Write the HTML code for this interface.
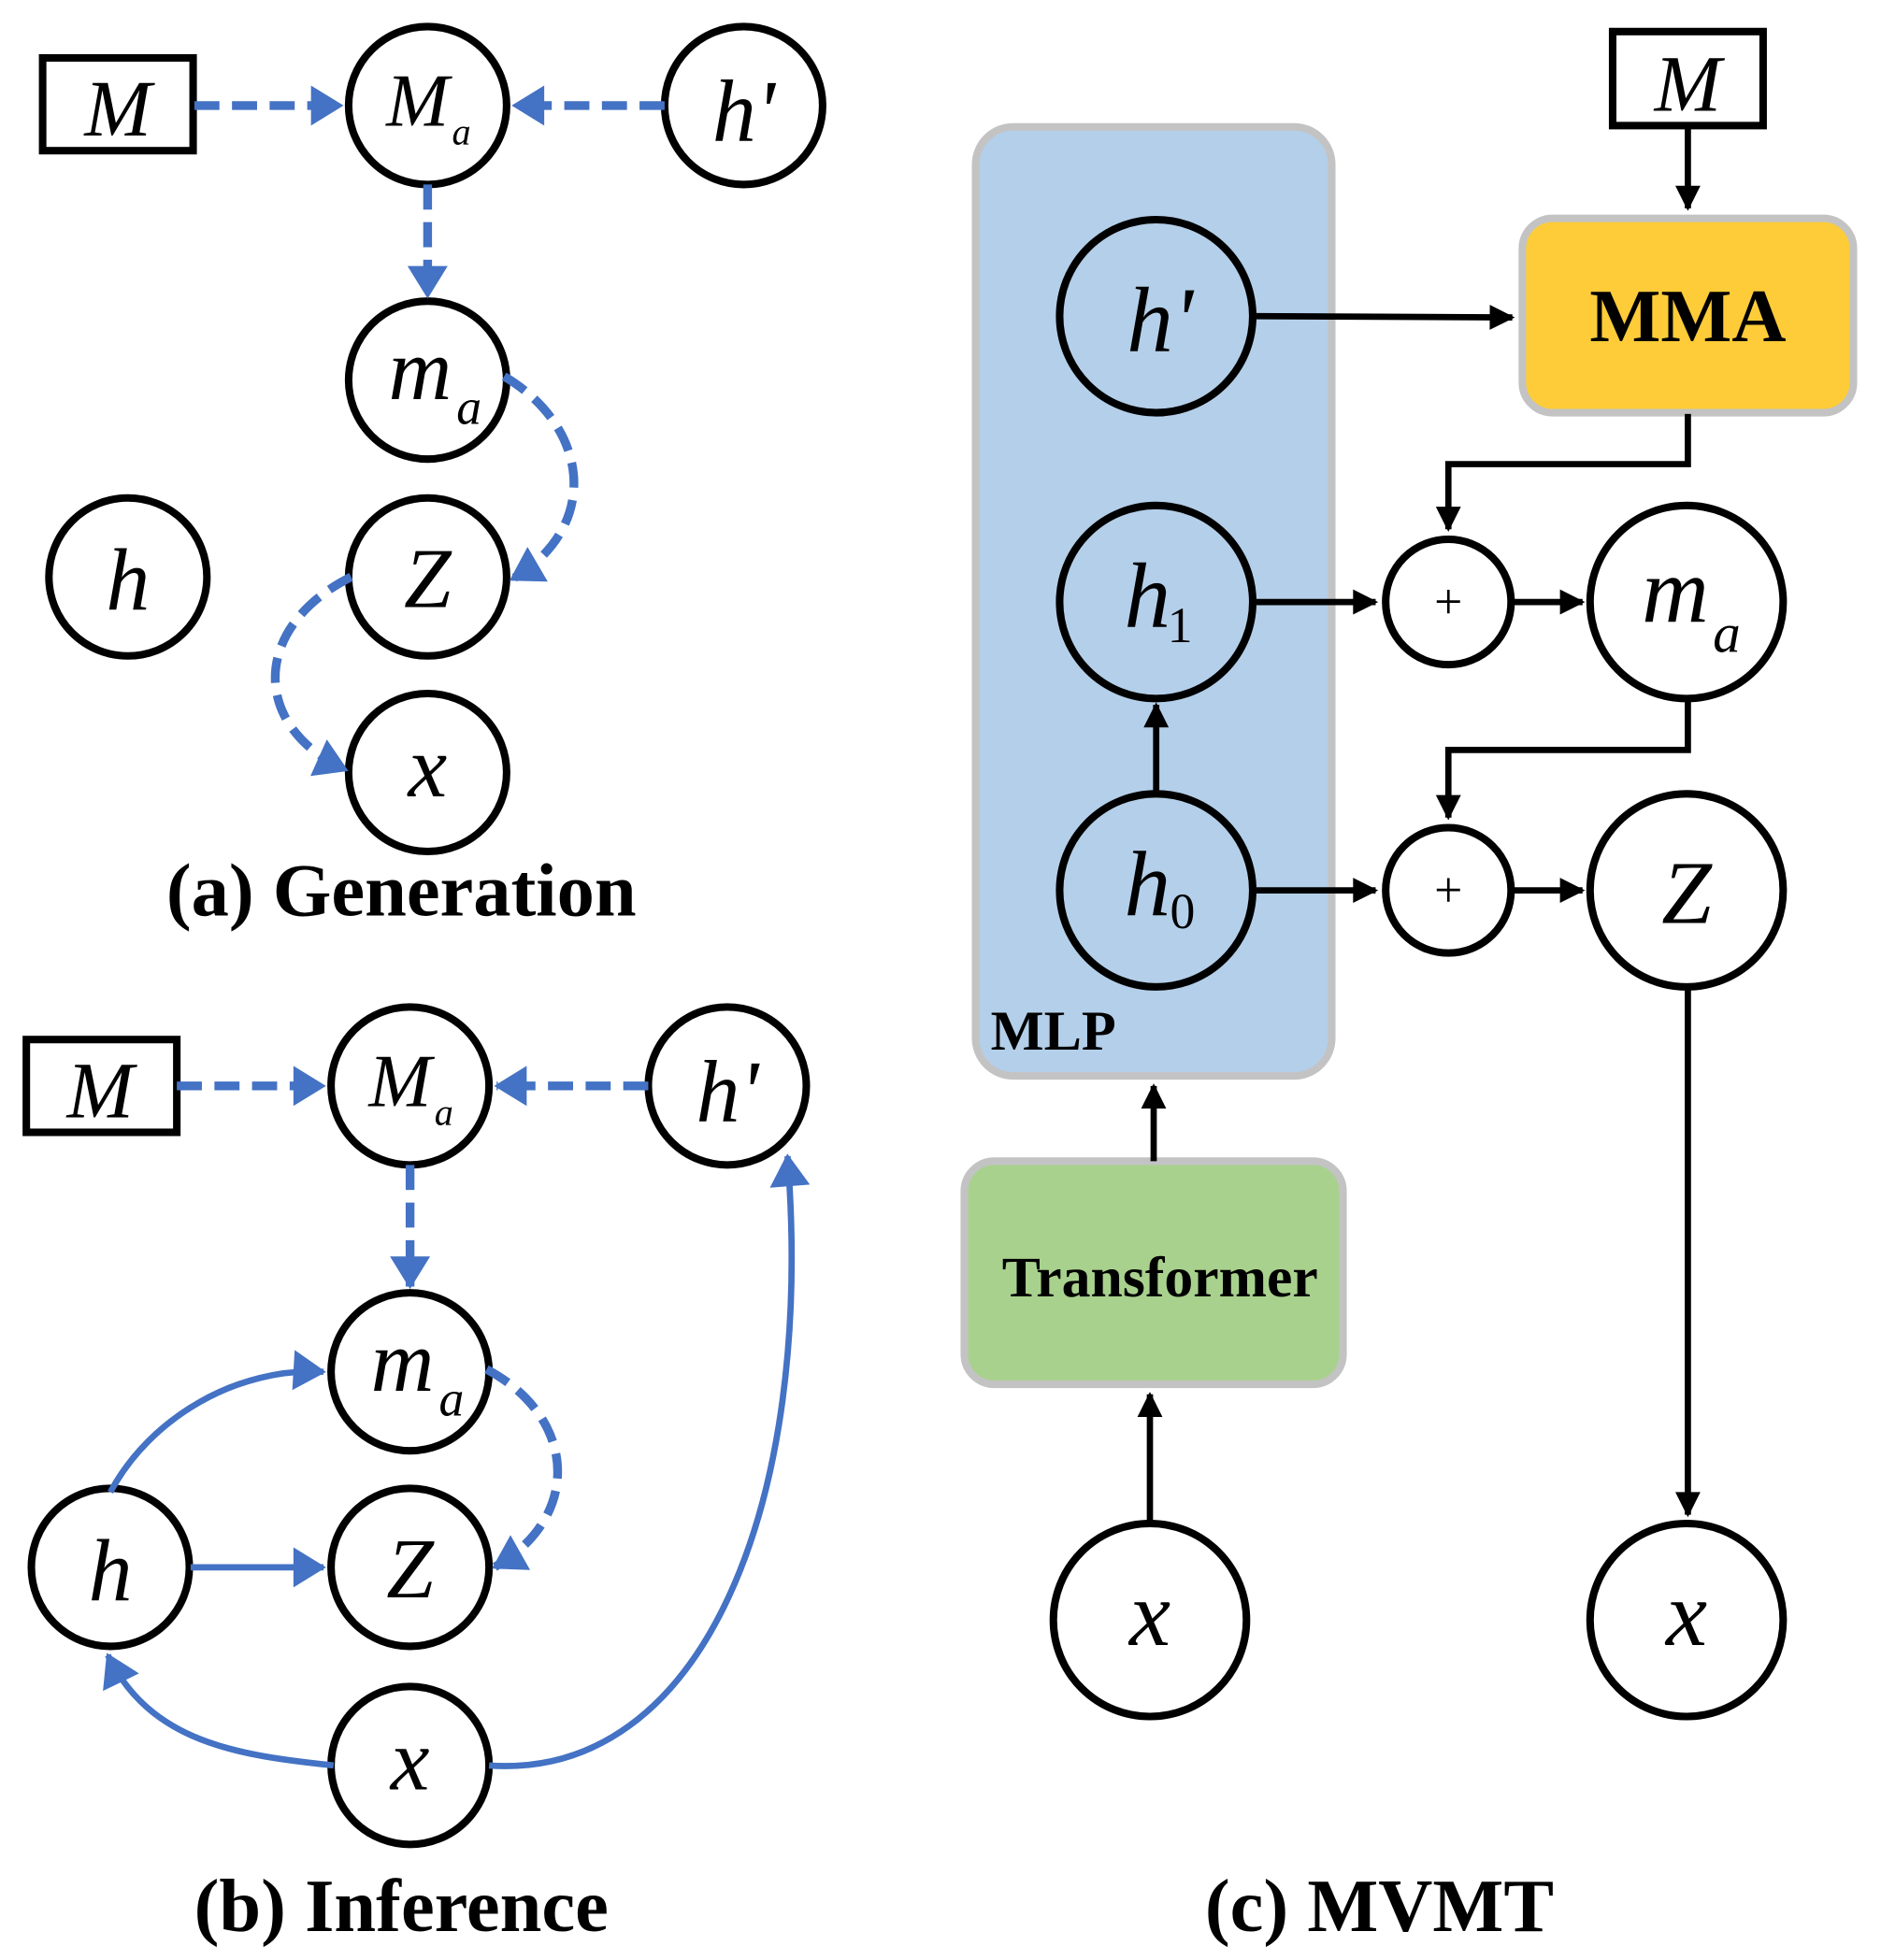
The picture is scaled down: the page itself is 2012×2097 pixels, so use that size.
<!DOCTYPE html>
<html><head><meta charset="utf-8"><style>
html,body{margin:0;padding:0;background:#fff;}
svg{display:block;}
text{font-family:"Liberation Serif",serif;}
.it{font-style:italic;}
</style></head><body>
<svg width="2012" height="2097" viewBox="0 0 1500 1563" xmlns="http://www.w3.org/2000/svg">
<defs>
<marker id="ab" markerWidth="8" markerHeight="8" refX="6" refY="4" orient="auto" markerUnits="userSpaceOnUse" viewBox="0 0 8 8" style="overflow:visible">
<path d="M-18,-12 L8,4 L-18,20 Z" fill="#4472c4"/></marker>
<marker id="ak" viewBox="0 0 8 8" refX="6" refY="4" orient="auto" markerUnits="userSpaceOnUse" markerWidth="8" markerHeight="8" style="overflow:visible">
<path d="M-12,-6 L8,4 L-12,14 Z" fill="#000"/></marker>
</defs>
<g fill="none" stroke="#000" stroke-width="6">
<rect x="34" y="46" width="120" height="74"/>
<circle cx="341" cy="84" r="63"/><circle cx="593" cy="84" r="63"/>
<circle cx="341" cy="303" r="63"/><circle cx="341" cy="460" r="63"/>
<circle cx="341" cy="616" r="63"/><circle cx="102" cy="460" r="63"/>
<rect x="21" y="829" width="120" height="74"/>
<circle cx="327" cy="866" r="63"/><circle cx="580" cy="866" r="63"/>
<circle cx="327" cy="1094" r="63"/><circle cx="327" cy="1250" r="63"/>
<circle cx="88" cy="1250" r="63"/><circle cx="327" cy="1408" r="63"/>
</g>
<g fill="none" stroke="#4472c4" stroke-width="7" stroke-dasharray="20,10">
<line x1="155" y1="84" x2="272" y2="84" marker-end="url(#ab)"/>
<line x1="530" y1="84" x2="410" y2="84" marker-end="url(#ab)"/>
<line x1="341" y1="147" x2="341" y2="236" marker-end="url(#ab)"/>
<path d="M402,300 C470,340 480,420 408,462" marker-end="url(#ab)"/>
<path d="M280,460 C200,500 200,580 276,614" marker-end="url(#ab)"/>
<line x1="141" y1="866" x2="258" y2="866" marker-end="url(#ab)"/>
<line x1="517" y1="866" x2="396" y2="866" marker-end="url(#ab)"/>
<line x1="327" y1="929" x2="327" y2="1026" marker-end="url(#ab)"/>
<path d="M388,1092 C460,1130 465,1210 394,1250" marker-end="url(#ab)"/>
</g>
<g fill="none" stroke="#4472c4" stroke-width="5">
<path d="M88,1190 C120,1130 190,1090 258,1094" marker-end="url(#ab)"/>
<line x1="152" y1="1250" x2="258" y2="1250" marker-end="url(#ab)"/>
<path d="M266,1408 C190,1400 120,1390 86,1320" marker-end="url(#ab)"/>
<path d="M390,1408 C560,1420 650,1200 628,922" marker-end="url(#ab)"/>
</g>
<g font-size="70" class="it" text-anchor="middle">
<text x="94" y="108" font-size="64">M</text>
<text x="333" y="100" font-size="60">M</text><text x="368" y="115" font-size="30">a</text>
<text x="593" y="112">h'</text>
<text x="335" y="318">m</text><text x="374" y="338" font-size="40">a</text>
<text x="341" y="484" font-size="68">Z</text>
<text x="341" y="635">x</text>
<text x="102" y="486">h</text>
<text x="80" y="891" font-size="64">M</text>
<text x="319" y="882" font-size="60">M</text><text x="354" y="897" font-size="30">a</text>
<text x="580" y="894">h'</text>
<text x="321" y="1109">m</text><text x="360" y="1129" font-size="40">a</text>
<text x="327" y="1274" font-size="68">Z</text>
<text x="327" y="1427">x</text>
<text x="88" y="1276">h</text>
</g>
<g font-weight="bold" font-size="60" text-anchor="middle">
<text x="320" y="730">(a) Generation</text>
<text x="320" y="1540">(b) Inference</text>
<text x="1100" y="1540">(c) MVMT</text>
</g>
<rect x="778" y="101" width="284" height="757" rx="30" fill="#b4cfe9" stroke="#c3c3c3" stroke-width="6"/>
<rect x="769" y="926" width="302" height="178" rx="24" fill="#a9d18e" stroke="#c3c3c3" stroke-width="6"/>
<rect x="1214" y="174" width="264" height="155" rx="24" fill="#fdcc38" stroke="#c3c3c3" stroke-width="6"/>
<g fill="none" stroke="#000" stroke-width="5">
<rect x="1286" y="25" width="120" height="75" stroke-width="6"/>
<line x1="1002" y1="252" x2="1206" y2="253" marker-end="url(#ak)"/>
<line x1="1346" y1="100" x2="1346" y2="166" marker-end="url(#ak)"/>
<polyline points="1346,330 1346,370 1155,370 1155,422" marker-end="url(#ak)"/>
<line x1="1002" y1="480" x2="1097" y2="480" marker-end="url(#ak)"/>
<line x1="1207" y1="480" x2="1262" y2="480" marker-end="url(#ak)"/>
<polyline points="1346,557 1346,598 1155,598 1155,652" marker-end="url(#ak)"/>
<line x1="1002" y1="710" x2="1097" y2="710" marker-end="url(#ak)"/>
<line x1="1207" y1="710" x2="1262" y2="710" marker-end="url(#ak)"/>
<line x1="922" y1="633" x2="922" y2="562" marker-end="url(#ak)"/>
<line x1="920" y1="926" x2="920" y2="866" marker-end="url(#ak)"/>
<line x1="917" y1="1215" x2="917" y2="1112" marker-end="url(#ak)"/>
<line x1="1346" y1="787" x2="1346" y2="1208" marker-end="url(#ak)"/>
</g>
<g stroke="#000" stroke-width="6">
<circle cx="922" cy="252" r="77" fill="#b4cfe9"/>
<circle cx="922" cy="480" r="77" fill="#b4cfe9"/>
<circle cx="922" cy="710" r="77" fill="#b4cfe9"/>
<circle cx="1155" cy="480" r="50" fill="#fff"/>
<circle cx="1155" cy="710" r="50" fill="#fff"/>
<circle cx="1345" cy="480" r="77" fill="#fff"/>
<circle cx="1345" cy="710" r="77" fill="#fff"/>
<circle cx="1345" cy="1292" r="77" fill="#fff"/>
<circle cx="917" cy="1292" r="77" fill="#fff"/>
</g>
<g font-size="74" class="it" text-anchor="middle">
<text x="1346" y="88" font-size="64">M</text>
<text x="925" y="280">h'</text>
<text x="915" y="500">h</text><text x="941" y="512" font-size="40" font-style="normal">1</text>
<text x="915" y="730">h</text><text x="943" y="740" font-size="40" font-style="normal">0</text>
<text x="1336" y="496">m</text><text x="1377" y="520" font-size="44">a</text>
<text x="1345" y="736" font-size="72">Z</text>
<text x="1345" y="1312">x</text>
<text x="917" y="1312">x</text>
</g>
<g font-size="40" text-anchor="middle"><text x="1155" y="493">+</text><text x="1155" y="723">+</text></g>
<g font-weight="bold" text-anchor="middle">
<text x="1346" y="272" font-size="60">MMA</text>
<text x="925" y="1034" font-size="46">Transformer</text>
<text x="840" y="837" font-size="45">MLP</text>
</g>
</svg>
</body></html>
